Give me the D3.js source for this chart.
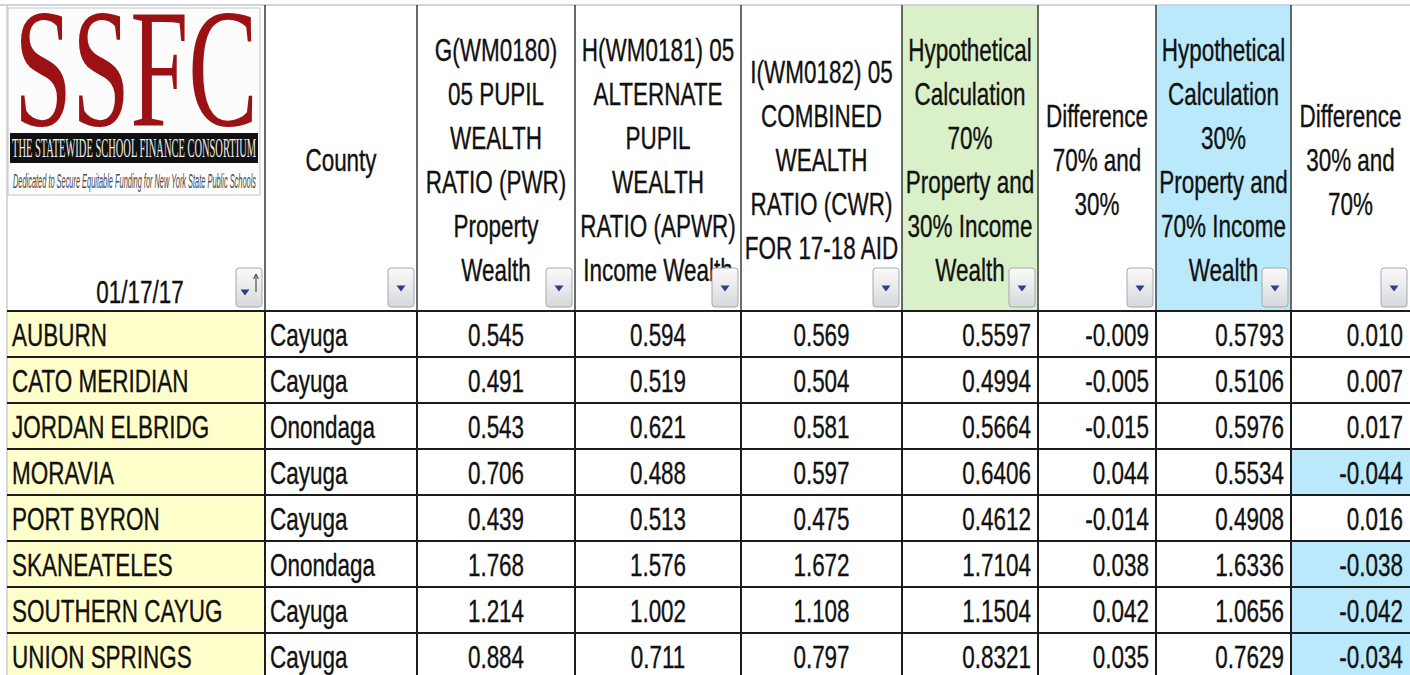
<!DOCTYPE html>
<html lang="en">
<head>
    <meta charset="UTF-8">
    <title>SSFC Wealth Ratio Table</title>
    <script src="https://d3js.org/d3.v7.min.js"></script>
    <style>
        body { margin: 0; background: #fff; }
        svg { display: block; }
        .cell-text { font-family: "Liberation Sans", Arial, sans-serif; font-size: 31px; fill: #111; stroke: #111; stroke-width: 0.35px; }
        .grid { stroke: #1c1c1c; stroke-width: 2px; }
        .grid-head { stroke: #3a3a3a; stroke-width: 1.5px; }
    </style>
</head>
<body>
    <svg width="1410" height="675"></svg>

    <script>
        // Data
        const districts = ["AUBURN", "CATO MERIDIAN", "JORDAN ELBRIDG", "MORAVIA", "PORT BYRON", "SKANEATELES", "SOUTHERN CAYUG", "UNION SPRINGS"];
        const counties = ["Cayuga", "Cayuga", "Onondaga", "Cayuga", "Cayuga", "Onondaga", "Cayuga", "Cayuga"];
        const pwr = [0.545, 0.491, 0.543, 0.706, 0.439, 1.768, 1.214, 0.884];
        const apwr = [0.594, 0.519, 0.621, 0.488, 0.513, 1.576, 1.002, 0.711];
        const cwr = [0.569, 0.504, 0.581, 0.597, 0.475, 1.672, 1.108, 0.797];
        const hyp70 = [0.5597, 0.4994, 0.5664, 0.6406, 0.4612, 1.7104, 1.1504, 0.8321];
        const diff70 = [-0.009, -0.005, -0.015, 0.044, -0.014, 0.038, 0.042, 0.035];
        const hyp30 = [0.5793, 0.5106, 0.5976, 0.5534, 0.4908, 1.6336, 1.0656, 0.7629];
        const diff30 = [0.010, 0.007, 0.017, -0.044, 0.016, -0.038, -0.042, -0.034];

        const runDate = "01/17/17";
        const headers = [
            [],
            ["County"],
            ["G(WM0180)", "05 PUPIL", "WEALTH", "RATIO (PWR)", "Property", "Wealth"],
            ["H(WM0181) 05", "ALTERNATE", "PUPIL", "WEALTH", "RATIO (APWR)", "Income Wealth"],
            ["I(WM0182) 05", "COMBINED", "WEALTH", "RATIO (CWR)", "FOR 17-18 AID"],
            ["Hypothetical", "Calculation", "70%", "Property and", "30% Income", "Wealth"],
            ["Difference", "70% and", "30%"],
            ["Hypothetical", "Calculation", "30%", "Property and", "70% Income", "Wealth"],
            ["Difference", "30% and", "70%"]
        ];

        // Layout
        const svg = d3.select("svg");
        const colEdges = [7, 265, 417, 575, 741, 902, 1038, 1156, 1291, 1410];
        const headTop = 5, headBottom = 311, rowH = 46;
        const SX = 0.725;   // narrow look of the sheet font
        const lineH = 44;

        const loc = d3.formatLocale({ decimal: ".", thousands: ",", grouping: [3], currency: ["$", ""], minus: "-" });
        const f3 = loc.format(".3f"), f4 = loc.format(".4f");

        const y = d3.scaleBand()
            .domain(d3.range(districts.length))
            .range([headBottom, headBottom + rowH * districts.length]);

        const colX0 = i => colEdges[i], colX1 = i => colEdges[i + 1];

        // Column definitions: values, format, alignment
        const columns = [
            { vals: districts, fmt: d => d, align: "start" },
            { vals: counties, fmt: d => d, align: "start" },
            { vals: pwr, fmt: f3, align: "middle" },
            { vals: apwr, fmt: f3, align: "middle" },
            { vals: cwr, fmt: f3, align: "middle" },
            { vals: hyp70, fmt: f4, align: "end" },
            { vals: diff70, fmt: f3, align: "end" },
            { vals: hyp30, fmt: f4, align: "end" },
            { vals: diff30, fmt: f3, align: "end", negFill: "#b9e9fb" }
        ];

        const defs = svg.append("defs");
        const grad = defs.append("linearGradient").attr("id", "btn").attr("x1", 0).attr("y1", 0).attr("x2", 0).attr("y2", 1);
        grad.append("stop").attr("offset", "0%").attr("stop-color", "#fbfbfb");
        grad.append("stop").attr("offset", "100%").attr("stop-color", "#d6d8dc");

        // Backgrounds
        svg.append("rect").attr("x", 0).attr("y", 0).attr("width", 1410).attr("height", 675).attr("fill", "#fff");
        svg.append("rect")
            .attr("x", colX0(0)).attr("y", y(0))
            .attr("width", colX1(0) - colX0(0)).attr("height", rowH * districts.length)
            .attr("fill", "#ffffcc");
        svg.append("rect")
            .attr("x", colX0(5)).attr("y", headTop)
            .attr("width", colX1(5) - colX0(5)).attr("height", headBottom - headTop)
            .attr("fill", "#d9f0c8");
        svg.append("rect")
            .attr("x", colX0(7)).attr("y", headTop)
            .attr("width", colX1(7) - colX0(7)).attr("height", headBottom - headTop)
            .attr("fill", "#b9e9fb");

        columns.forEach((c, ci) => {
            if (!c.negFill) return;
            svg.selectAll(null)
                .data(c.vals.map((v, i) => ({ v, i })).filter(d => d.v < 0))
                .enter().append("rect")
                .attr("x", colX0(ci)).attr("y", d => y(d.i))
                .attr("width", colX1(ci) - colX0(ci)).attr("height", rowH)
                .attr("fill", c.negFill);
        });

        // text helper
        function put(g, x, yy, txt, anchor) {
            g.append("text")
                .attr("class", "cell-text")
                .attr("transform", `translate(${x},${yy}) scale(${SX},1)`)
                .attr("text-anchor", anchor)
                .text(txt);
        }

        // Header texts
        const head = svg.append("g");
        const headMid = 160;
        headers.forEach((lines, ci) => {
            const cx = (colX0(ci) + colX1(ci)) / 2;
            lines.forEach((t, li) => {
                const cy = headMid + (li - (lines.length - 1) / 2) * lineH;
                put(head, cx, cy + 11, t, "middle");
            });
        });
        put(head, 140, 303, runDate, "middle");

        // Body texts
        const body = svg.append("g");
        columns.forEach((c, ci) => {
            c.vals.forEach((v, i) => {
                let x;
                if (c.align === "start") x = colX0(ci) + 5;
                else if (c.align === "end") x = colX1(ci) - 7;
                else x = (colX0(ci) + colX1(ci)) / 2;
                put(body, x, y(i) + 35, c.fmt(v), c.align);
            });
        });

        // Grid lines
        svg.append("line").attr("x1", 0).attr("x2", 1410).attr("y1", headTop).attr("y2", headTop)
            .attr("stroke", "#cfd4e2").attr("stroke-width", 2);
        svg.append("line").attr("x1", colX0(0)).attr("x2", colX0(0)).attr("y1", headTop).attr("y2", 675)
            .attr("stroke", "#c9ccd4").attr("stroke-width", 1.5);
        svg.selectAll(".vhead")
            .data(colEdges.slice(1, -1))
            .enter().append("line")
            .attr("class", "grid-head")
            .attr("x1", d => d).attr("x2", d => d)
            .attr("y1", headTop).attr("y2", headBottom);
        svg.selectAll(".vbody")
            .data(colEdges.slice(1, -1))
            .enter().append("line")
            .attr("class", "grid")
            .attr("x1", d => d).attr("x2", d => d)
            .attr("y1", headBottom).attr("y2", 675);
        svg.selectAll(".hrow")
            .data(d3.range(districts.length + 1))
            .enter().append("line")
            .attr("class", "grid")
            .attr("x1", colX0(0)).attr("x2", 1410)
            .attr("y1", d => headBottom + d * rowH).attr("y2", d => headBottom + d * rowH);

        // Filter buttons
        const btnW = 26, btnTop = 268, btnH = 39;
        colEdges.slice(1).forEach((edge, i) => {
            const bx = edge - 3 - btnW;
            const b = svg.append("g");
            b.append("rect")
                .attr("x", bx).attr("y", btnTop).attr("width", btnW).attr("height", btnH)
                .attr("rx", 3).attr("fill", "url(#btn)")
                .attr("stroke", "#a3a8b0").attr("stroke-width", 1);
            const tx = i === 0 ? bx + 9 : bx + btnW / 2;
            const ty = btnTop + btnH / 2 + (i === 0 ? 5 : 1);
            b.append("path")
                .attr("d", `M${tx - 4.5},${ty - 3}L${tx + 4.5},${ty - 3}L${tx},${ty + 3}Z`)
                .attr("fill", "#2b3f8c");
            if (i === 0) {
                const ax = bx + 20;
                b.append("line").attr("x1", ax).attr("x2", ax).attr("y1", btnTop + 8).attr("y2", btnTop + 24)
                    .attr("stroke", "#333").attr("stroke-width", 1);
                b.append("path").attr("d", `M${ax - 2.5},${btnTop + 11}L${ax},${btnTop + 6}L${ax + 2.5},${btnTop + 11}`)
                    .attr("fill", "none").attr("stroke", "#333").attr("stroke-width", 1);
            }
        });

        // Logo
        const logo = svg.append("g");
        logo.append("rect").attr("x", 8).attr("y", 8).attr("width", 252).attr("height", 187)
            .attr("fill", "#fcfcfc").attr("stroke", "#c4c4c4").attr("stroke-width", 1);
        logo.append("text")
            .attr("x", 14).attr("y", 125)
            .attr("textLength", 244).attr("lengthAdjust", "spacingAndGlyphs")
            .style("font-family", "'Liberation Serif', 'Times New Roman', serif")
            .style("font-size", "170px")
            .attr("fill", "#9c1114")
            .text("SSFC");
        logo.append("rect").attr("x", 10).attr("y", 133).attr("width", 248).attr("height", 30).attr("fill", "#111");
        logo.append("text")
            .attr("x", 12).attr("y", 157)
            .attr("textLength", 244).attr("lengthAdjust", "spacingAndGlyphs")
            .style("font-family", "'Liberation Serif', 'Times New Roman', serif")
            .style("font-size", "28px")
            .attr("fill", "#eeeeee")
            .text("THE STATEWIDE SCHOOL FINANCE CONSORTIUM");
        logo.append("text")
            .attr("x", 13).attr("y", 188)
            .attr("textLength", 243).attr("lengthAdjust", "spacingAndGlyphs")
            .style("font-family", "'Liberation Sans Narrow', 'Liberation Sans', sans-serif")
            .style("font-size", "20px")
            .style("font-style", "italic")
            .attr("fill", "#4a4a4a")
            .text("Dedicated to Secure Equitable Funding for New York State Public Schools");
    </script>
</body>
</html>
